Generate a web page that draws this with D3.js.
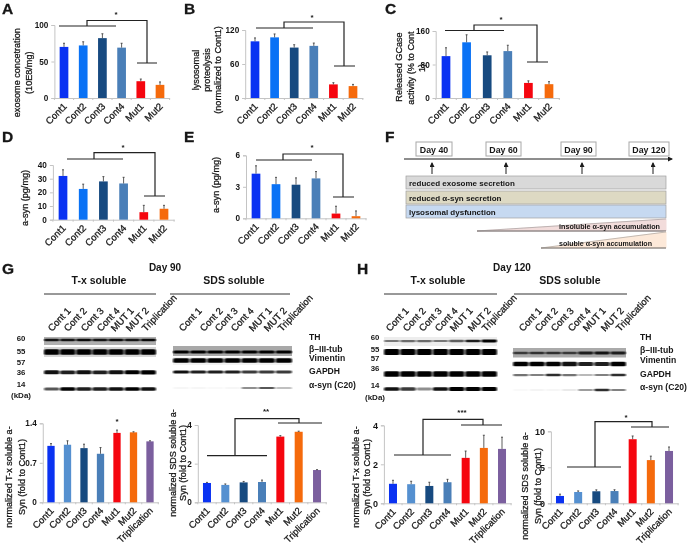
<!DOCTYPE html>
<html><head><meta charset="utf-8">
<script src="https://cdn.jsdelivr.net/npm/d3@7/dist/d3.min.js"></script>
<style>
html,body{margin:0;padding:0;background:#fff}
svg{display:block;filter:blur(0.4px)}
text{font-family:"Liberation Sans",Arial,sans-serif;fill:#161616}
.med{stroke:#161616;stroke-width:0.28px}
</style></head><body><div id="c"></div>
<script>
// ---- data ----
const cats6 = ["Cont1","Cont2","Cont3","Cont4","Mut1","Mut2"];
const cats7 = ["Cont1","Cont2","Cont3","Cont4","Mut1","Mut2","Triplication"];
const aVals = [70,72,82,69,23,18],            aErr = [5,5,6,6,3,4];
const bVals = [100,107,89,92,24,21],          bErr = [6,6,5,5,3,3];
const cVals = [100,133,102,112,36,33],        cErr = [20,18,8,14,5,6];
const dVals = [32,22.5,28,26.5,5.5,8],        dErr = [4.5,3.5,3.5,4.5,5,2.5];
const eVals = [4.25,3.25,3.2,3.8,0.45,0.2],   eErr = [0.75,0.65,0.65,0.65,0.7,0.5];
const g1Vals = [1.0,1.02,0.96,0.86,1.23,1.24,1.08], g1Err = [0.04,0.07,0.07,0.11,0.05,0.01,0.01];
const g2Vals = [1.0,0.9,1.03,1.05,3.4,3.65,1.67],   g2Err = [0.03,0.05,0.05,0.1,0.05,0.03,0.02];
const h1Vals = [1.0,0.98,0.89,1.08,2.33,2.84,2.79], h1Err = [0.18,0.15,0.19,0.15,0.35,0.65,0.6];
const h2Vals = [1.02,1.57,1.67,1.7,8.9,6.0,7.27],   h2Err = [0.25,0.15,0.2,0.18,0.45,0.55,0.55];
const colors6 = ["#0a32f2","#0a72f5","#174a80","#4a7fb8","#f5060f","#f56a0c"];
const colors7 = ["#0a32f2","#5590d0","#174a80","#4a7fb8","#f5060f","#f56a0c","#7b5f9e"];
const days = ["Day 40","Day 60","Day 90","Day 120"];
const laneNames = ["Cont 1","Cont 2","Cont 3","Cont 4","MUT 1","MUT 2","Triplication"];
const rowNames = ["TH","β–III-tub","Vimentin","GAPDH","α-syn (C20)"];
const kDaNames = ["60","55","57","36","14","(kDa)"];
const gTxTH = [.8,.8,.85,.8,.85,.8,.85], gTxTub = [1,1,1,1,1,1,1], gTxGapdh = [.85,.8,.85,.8,.85,.95,1], gTxSyn = [.6,.9,.8,.8,.85,.95,.85];
const gSdsTub = [.9,.9,.9,.9,.9,.9,.9], gSdsVim = [1,1,1,1,1,1,1], gSdsGapdh = [.85,.8,.8,.8,.7,.7,.7], gSdsSyn = [.04,.04,.03,.04,.4,.6,.3];
const hTxTH = [.45,.5,.5,.45,.55,.8,.9], hTxTub = [1,1,1,1,1,1,1], hTxGapdh = [.95,.95,.95,.95,1,1,1], hTxSyn = [.85,.7,.4,.85,1,.9,.95];
const hSdsTub = [.6,.65,.65,.6,.75,.8,.75], hSdsVim = [.95,.95,.9,.85,.8,.8,.95], hSdsGapdh = [.5,.45,.75,.5,.25,.45,.75], hSdsSyn = [.03,.05,.04,.1,.35,.75,.45];

// ---- layout ----
const W = 688, H = 547;
const svg = d3.select("#c").append("svg").attr("width",W).attr("height",H).attr("viewBox",`0 0 ${W} ${H}`);
const defs = svg.append("defs");
defs.append("filter").attr("id","soft").attr("x","-5%").attr("y","-80%").attr("width","110%").attr("height","260%")
  .append("feGaussianBlur").attr("stdDeviation","1 0.7");
const mk = defs.append("marker").attr("id","head").attr("markerWidth",6).attr("markerHeight",6).attr("refX",4).attr("refY",2.5).attr("orient","auto").attr("markerUnits","userSpaceOnUse");
mk.append("path").attr("d","M0,0L5,2.5L0,5Z").attr("fill","#1c1c1c");

const panelLetters = [["A",2,14],["B",184,14],["C",385,14],["D",2,142],["E",184,142],["F",385,142],["G",2,274],["H",357,274]];
svg.selectAll("text.pl").data(panelLetters).join("text").attr("class","pl")
  .attr("x",d=>d[1]).attr("y",d=>d[2]).attr("font-size",15.5).attr("font-weight",700).attr("stroke","#111").attr("stroke-width",.3).text(d=>d[0]);

function panel(p){
  const x = d3.scaleBand().domain(p.cats).range(p.xr).paddingInner(0);
  const y = d3.scaleLinear().domain([0,p.max]).range(p.yr);
  const g = svg.append("g");
  const fx = g.append("g").attr("transform",`translate(0,${p.yr[0]})`)
    .call(d3.axisBottom(x).tickSize(0).tickPadding(0));
  fx.select(".domain").attr("stroke","#c4c4c4");
  fx.selectAll("text").attr("class","med").attr("text-anchor","end").attr("font-size",9.5).attr("font-family",null)
    .attr("dy",null).attr("y",null)
    .attr("transform","translate(3.5,9) rotate(-45)");
  const edges = [p.xr[0],...p.cats.map((c,i)=>x(c)+x.bandwidth())];
  g.selectAll("line.et").data(edges).join("line").attr("class","et").attr("x1",d=>d).attr("x2",d=>d)
    .attr("y1",p.yr[0]).attr("y2",p.yr[0]+2).attr("stroke","#c4c4c4");
  const fy = g.append("g").attr("transform",`translate(${p.xr[0]},0)`)
    .call(d3.axisLeft(y).tickValues(p.ticks).tickSize(3).tickPadding(3).tickFormat(d=>d));
  fy.select(".domain").attr("stroke","#c4c4c4");
  fy.selectAll("line").attr("stroke","#c4c4c4");
  fy.selectAll("text").attr("font-size",p.tickFs||8.2).attr("font-weight",700).attr("font-family",null).attr("fill","#222");
  g.selectAll("rect.b").data(p.cats).join("rect").attr("class","b")
    .attr("x",c=>x(c)+(x.bandwidth()-p.bw)/2).attr("width",p.bw)
    .attr("y",(c,i)=>y(p.vals[i])).attr("height",(c,i)=>y(0)-y(p.vals[i]))
    .attr("fill",(c,i)=>p.colors[i]);
  g.selectAll("path.e").data(p.cats).join("path").attr("class","e")
    .attr("d",(c,i)=>{const cx=x(c)+x.bandwidth()/2,t=y(p.vals[i]+p.errs[i]);return `M${cx},${y(p.vals[i])}V${t}M${cx-1},${t}H${cx+1}`;})
    .attr("fill","none").attr("stroke","#333").attr("stroke-width",0.8);
  // y titles
  p.title.forEach(t=>{
    g.append("text").attr("class","med").attr("transform",`translate(${t[1]},${t[2]}) rotate(-90)`).attr("text-anchor","middle")
      .attr("font-size",p.titleFs||9.1).text(t[0]);
  });
  // significance bracket
  if(p.br){
    const b=p.br, line=d3.path();
    line.moveTo(b.l0,b.ly);line.lineTo(b.l1,b.ly);
    line.moveTo(b.sx,b.ly);line.lineTo(b.sx,b.ty);line.lineTo(b.ex,b.ty);line.lineTo(b.ex,b.ry);
    line.moveTo(b.r0,b.ry);line.lineTo(b.r1,b.ry);
    g.append("path").attr("d",line.toString()).attr("fill","none").attr("stroke","#222").attr("stroke-width",1.2);
    g.append("text").attr("x",b.star[1]).attr("y",b.star[2]).attr("text-anchor","middle").attr("font-size",8).attr("font-weight",700).text(b.star[0]);
  }
  if(p.top) g.append("text").attr("x",p.top[1]).attr("y",p.top[2]).attr("text-anchor","middle").attr("font-size",8).attr("font-weight",700).text(p.top[0]);
}

[
 {cats:cats6,vals:aVals,errs:aErr,colors:colors6,max:100,ticks:[0,50,100],xr:[54.4,169.6],yr:[98,25],bw:8.7,
  title:[["exosome concetration",20,72.7],["(10E8/mg)",32,72.7]],
  br:{l0:59,l1:116,ly:26,sx:87,ty:20.5,ex:147,ry:63,r0:137,r1:157,star:["*",116,17]}},
 {cats:cats6,vals:bVals,errs:bErr,colors:colors6,max:120,ticks:[0,60,120],xr:[245.2,362.8],yr:[98,30],bw:8.7,
  title:[["lysosomal",199,70],["proteolysis",210,70],["(normalized to Cont1)",221,70]],
  br:{l0:256,l1:313,ly:28,sx:284,ty:22,ex:344,ry:66,r0:334,r1:355,star:["*",312,20]}},
 {cats:cats6,vals:cVals,errs:cErr,colors:colors6,max:160,ticks:[0,80,160],xr:[435.7,559.3],yr:[98,31],bw:8.7,
  title:[["Released GCase",401.5,67],["activity (% to Cont",413.5,68],["1)",424.5,68]],
  br:{l0:445,l1:504,ly:30.5,sx:474,ty:25,ex:537,ry:62,r0:527,r1:548,star:["*",501,22]}},
 {cats:cats6,vals:dVals,errs:dErr,colors:colors6,max:40,ticks:[0,10,20,30,40],xr:[52.9,174.1],yr:[219.7,165],bw:8.7,
  title:[["a-syn (pg/mg)",27.5,198]],
  br:{l0:67,l1:123,ly:159,sx:94,ty:152.7,ex:155,ry:196,r0:144,r1:165,star:["*",123,150]}},
 {cats:cats6,vals:eVals,errs:eErr,colors:colors6,max:6,ticks:[0,3,6],xr:[246,366],yr:[218.3,155.3],bw:8.7,
  title:[["a-syn (pg/mg)",218.5,185]],
  br:{l0:256,l1:312,ly:160,sx:283,ty:154,ex:343,ry:197,r0:333,r1:354,star:["*",312,150]}},
 {cats:cats7,vals:g1Vals,errs:g1Err,colors:colors7,max:1.4,ticks:[0,0.7,1.4],xr:[42.75,158.25],yr:[502.3,423.3],bw:7.3,
  title:[["normalized T-x soluble a-",11.5,477],["Syn (fold to Cont1)",24.5,477]],top:["*",117,424]},
 {cats:cats7,vals:g2Vals,errs:g2Err,colors:colors7,max:4,ticks:[0,2,4],xr:[197.8,326.2],yr:[502.3,425],bw:8,
  title:[["normalized SDS soluble a-",175.5,463],["Syn (fold to Cont1)",185.5,463]],
  br:{l0:207,l1:267,ly:455.7,sx:235,ty:418.7,ex:299,ry:423,r0:278,r1:322,star:["**",266,414]}},
 {cats:cats7,vals:h1Vals,errs:h1Err,colors:colors7,max:4,ticks:[0,2,4],xr:[383.9,511.1],yr:[503.3,425.3],bw:8,tickFs:9,
  title:[["normalized T-x soluble a-",358.5,477],["Syn (fold to Cont1)",369.5,477]],
  br:{l0:394,l1:451,ly:455,sx:423,ty:419.3,ex:483,ry:425,r0:461,r1:502,star:["***",462,415]}},
 {cats:cats7,vals:h2Vals,errs:h2Err,colors:colors7,max:10,ticks:[0,5,10],xr:[550.9,678.1],yr:[503.3,431.3],bw:8,tickFs:9,
  title:[["normalized SDS soluble a-",527.5,486],["Syn (fold to Cont1)",540.5,486]],
  br:{l0:567,l1:621,ly:467,sx:595,ty:421.7,ex:652,ry:427,r0:631,r1:669,star:["*",626,420]}}
].forEach(panel);

// ---- Panel F timeline ----
const F = svg.append("g");
const boxes = [[416,452,432],[486,521,506],[561,596,582],[629,669,653]];
const timeBars = [
 {t:"reduced exosome secretion",y0:176,y1:189,fill:"#d9d9d9"},
 {t:"reduced α-syn secretion",y0:191,y1:204,fill:"#ddd9c3"},
 {t:"lysosomal dysfunction",y0:205,y1:218,fill:"#c6d9f1"}];
F.append("line").attr("x1",404).attr("x2",672).attr("y1",159).attr("y2",159).attr("stroke","#1c1c1c").attr("stroke-width",1).attr("marker-end","url(#head)");
days.forEach((d,i)=>{
  const b=boxes[i];
  F.append("rect").attr("x",b[0]).attr("y",142).attr("width",b[1]-b[0]).attr("height",14).attr("fill","#fff").attr("stroke","#a8a8a8");
  F.append("text").attr("x",(b[0]+b[1])/2).attr("y",152.5).attr("text-anchor","middle").attr("font-size",8.8).attr("font-weight",700).text(d);
  F.append("line").attr("x1",b[2]).attr("x2",b[2]).attr("y1",174).attr("y2",163).attr("stroke","#1c1c1c").attr("marker-end","url(#head)");
});
timeBars.forEach(b=>{
  F.append("rect").attr("x",406).attr("y",b.y0).attr("width",260).attr("height",b.y1-b.y0).attr("fill",b.fill).attr("stroke","#a0a0a0").attr("stroke-width",.7);
  F.append("text").attr("x",409).attr("y",b.y0+10).attr("font-size",8).attr("font-weight",700).attr("fill","#333").text(b.t);
});
[{p:"477,231 666,219 666,231",c:"#f2dcdb",t:"insoluble α-syn accumulation",ty:229,l:101},
 {p:"541,248 666,232 666,248",c:"#fde9d9",t:"soluble α-syn accumulation",ty:246,l:93}].forEach(a=>{
  F.append("polygon").attr("points",a.p).attr("fill",a.c).attr("stroke",a.c);
  const pts=a.p.split(" ")[0].split(",");
  F.append("path").attr("d",`M${pts[0]},${pts[1]}H666`).attr("stroke","#555").attr("stroke-width",.9);
  F.append("path").attr("d",`M${pts[0]},${pts[1]}L666,${a.p.split(" ")[1].split(",")[1]}`).attr("stroke","#888").attr("stroke-width",.5);
  F.append("text").attr("x",559).attr("y",a.ty).attr("font-size",7.6).attr("font-weight",700).attr("fill","#333")
    .attr("textLength",a.l).attr("lengthAdjust","spacingAndGlyphs").text(a.t);
});

// ---- Western blots ----
function blot(x0,x1,y,ints,thick,bg){
  const g=svg.append("g");
  if(bg) g.append("rect").attr("x",x0).attr("y",bg[0]).attr("width",x1-x0).attr("height",bg[1]-bg[0]).attr("fill",bg[2]);
  const b=d3.scaleBand().domain(d3.range(ints.length)).range([x0,x1]).paddingInner(.04);
  g.selectAll("rect.band").data(ints).join("rect").attr("class","band")
    .attr("x",(d,i)=>b(i)).attr("width",b.bandwidth()).attr("y",d=>y-thick*(.5+.5*d)/2).attr("height",d=>thick*(.5+.5*d))
    .attr("rx",1.5).attr("fill","#050505").attr("opacity",d=>Math.min(1,d*1.1)).attr("filter","url(#soft)");
}
blot(44,156,340,gTxTH,2.8,[337,345,"#b0b0b0"]);
blot(44,156,352,gTxTub,5.5,[347,357,"#d6d6d6"]);
blot(44,156,372.3,gTxGapdh,4.2,null);
blot(44,156,389,gTxSyn,3.8,null);
blot(173,292,352,gSdsTub,3.2,[346,356,"#a8a8a8"]);
blot(173,292,360.5,gSdsVim,4.6,[357,365,"#f2f2f2"]);
blot(173,292,372,gSdsGapdh,3.4,null);
blot(173,292,388,gSdsSyn,2.6,null);
blot(384,497,341,hTxTH,3,[337,346,"#ededed"]);
blot(384,497,352,hTxTub,6,null);
blot(384,497,374,hTxGapdh,5.4,null);
blot(384,497,389,hTxSyn,4,null);
blot(513,626,353,hSdsTub,3.2,[348,357.5,"#aaaaaa"]);
blot(513,626,364,hSdsVim,4.6,null);
blot(513,626,375,hSdsGapdh,3,null);
blot(513,626,390,hSdsSyn,2.6,null);

// ---- blot captions ----
const heads = [["Day 90",165,271,10],["T-x soluble",99,284,10.5],["SDS soluble",234,284,10.5],
               ["Day 120",512,271,10],["T-x soluble",438,284,10.5],["SDS soluble",570,284,10.5]];
heads.forEach(h=>svg.append("text").attr("x",h[1]).attr("y",h[2]).attr("text-anchor","middle").attr("font-size",h[3]).attr("font-weight",700).text(h[0]));
[[44,156],[170,290],[384,497],[514,627]].forEach(r=>svg.append("line").attr("x1",r[0]).attr("x2",r[1]).attr("y1",294).attr("y2",294).attr("stroke","#333").attr("stroke-width",1));
function lanes(xs){ laneNames.forEach((n,i)=>svg.append("text").attr("class","med").attr("transform",`translate(${xs[i]},332) rotate(-47)`).attr("font-size",9.6).text(n)); }
lanes([52,68,85,101,115,130,146]);
lanes([183,204,219,235,253,268,282]);
lanes([390,407,423,439,454,472,486]);
lanes([523,539,555,572,587,605,620]);
function rowLabels(x,ys){ rowNames.forEach((n,i)=>svg.append("text").attr("x",x).attr("y",ys[i]).attr("font-size",8.6).attr("font-weight",700).text(n)); }
rowLabels(309,[340,352,361,374,388]);
rowLabels(640,[340,353,363,377,390]);
function kda(x,ys){ kDaNames.forEach((n,i)=>svg.append("text").attr("x",x).attr("y",ys[i]).attr("text-anchor","middle").attr("font-size",i==5?8:7.8).attr("font-weight",700).text(n)); }
kda(21,[341,354,365,375,387,398]);
kda(375,[340,352,361,371,388,400]);
</script></body></html>
